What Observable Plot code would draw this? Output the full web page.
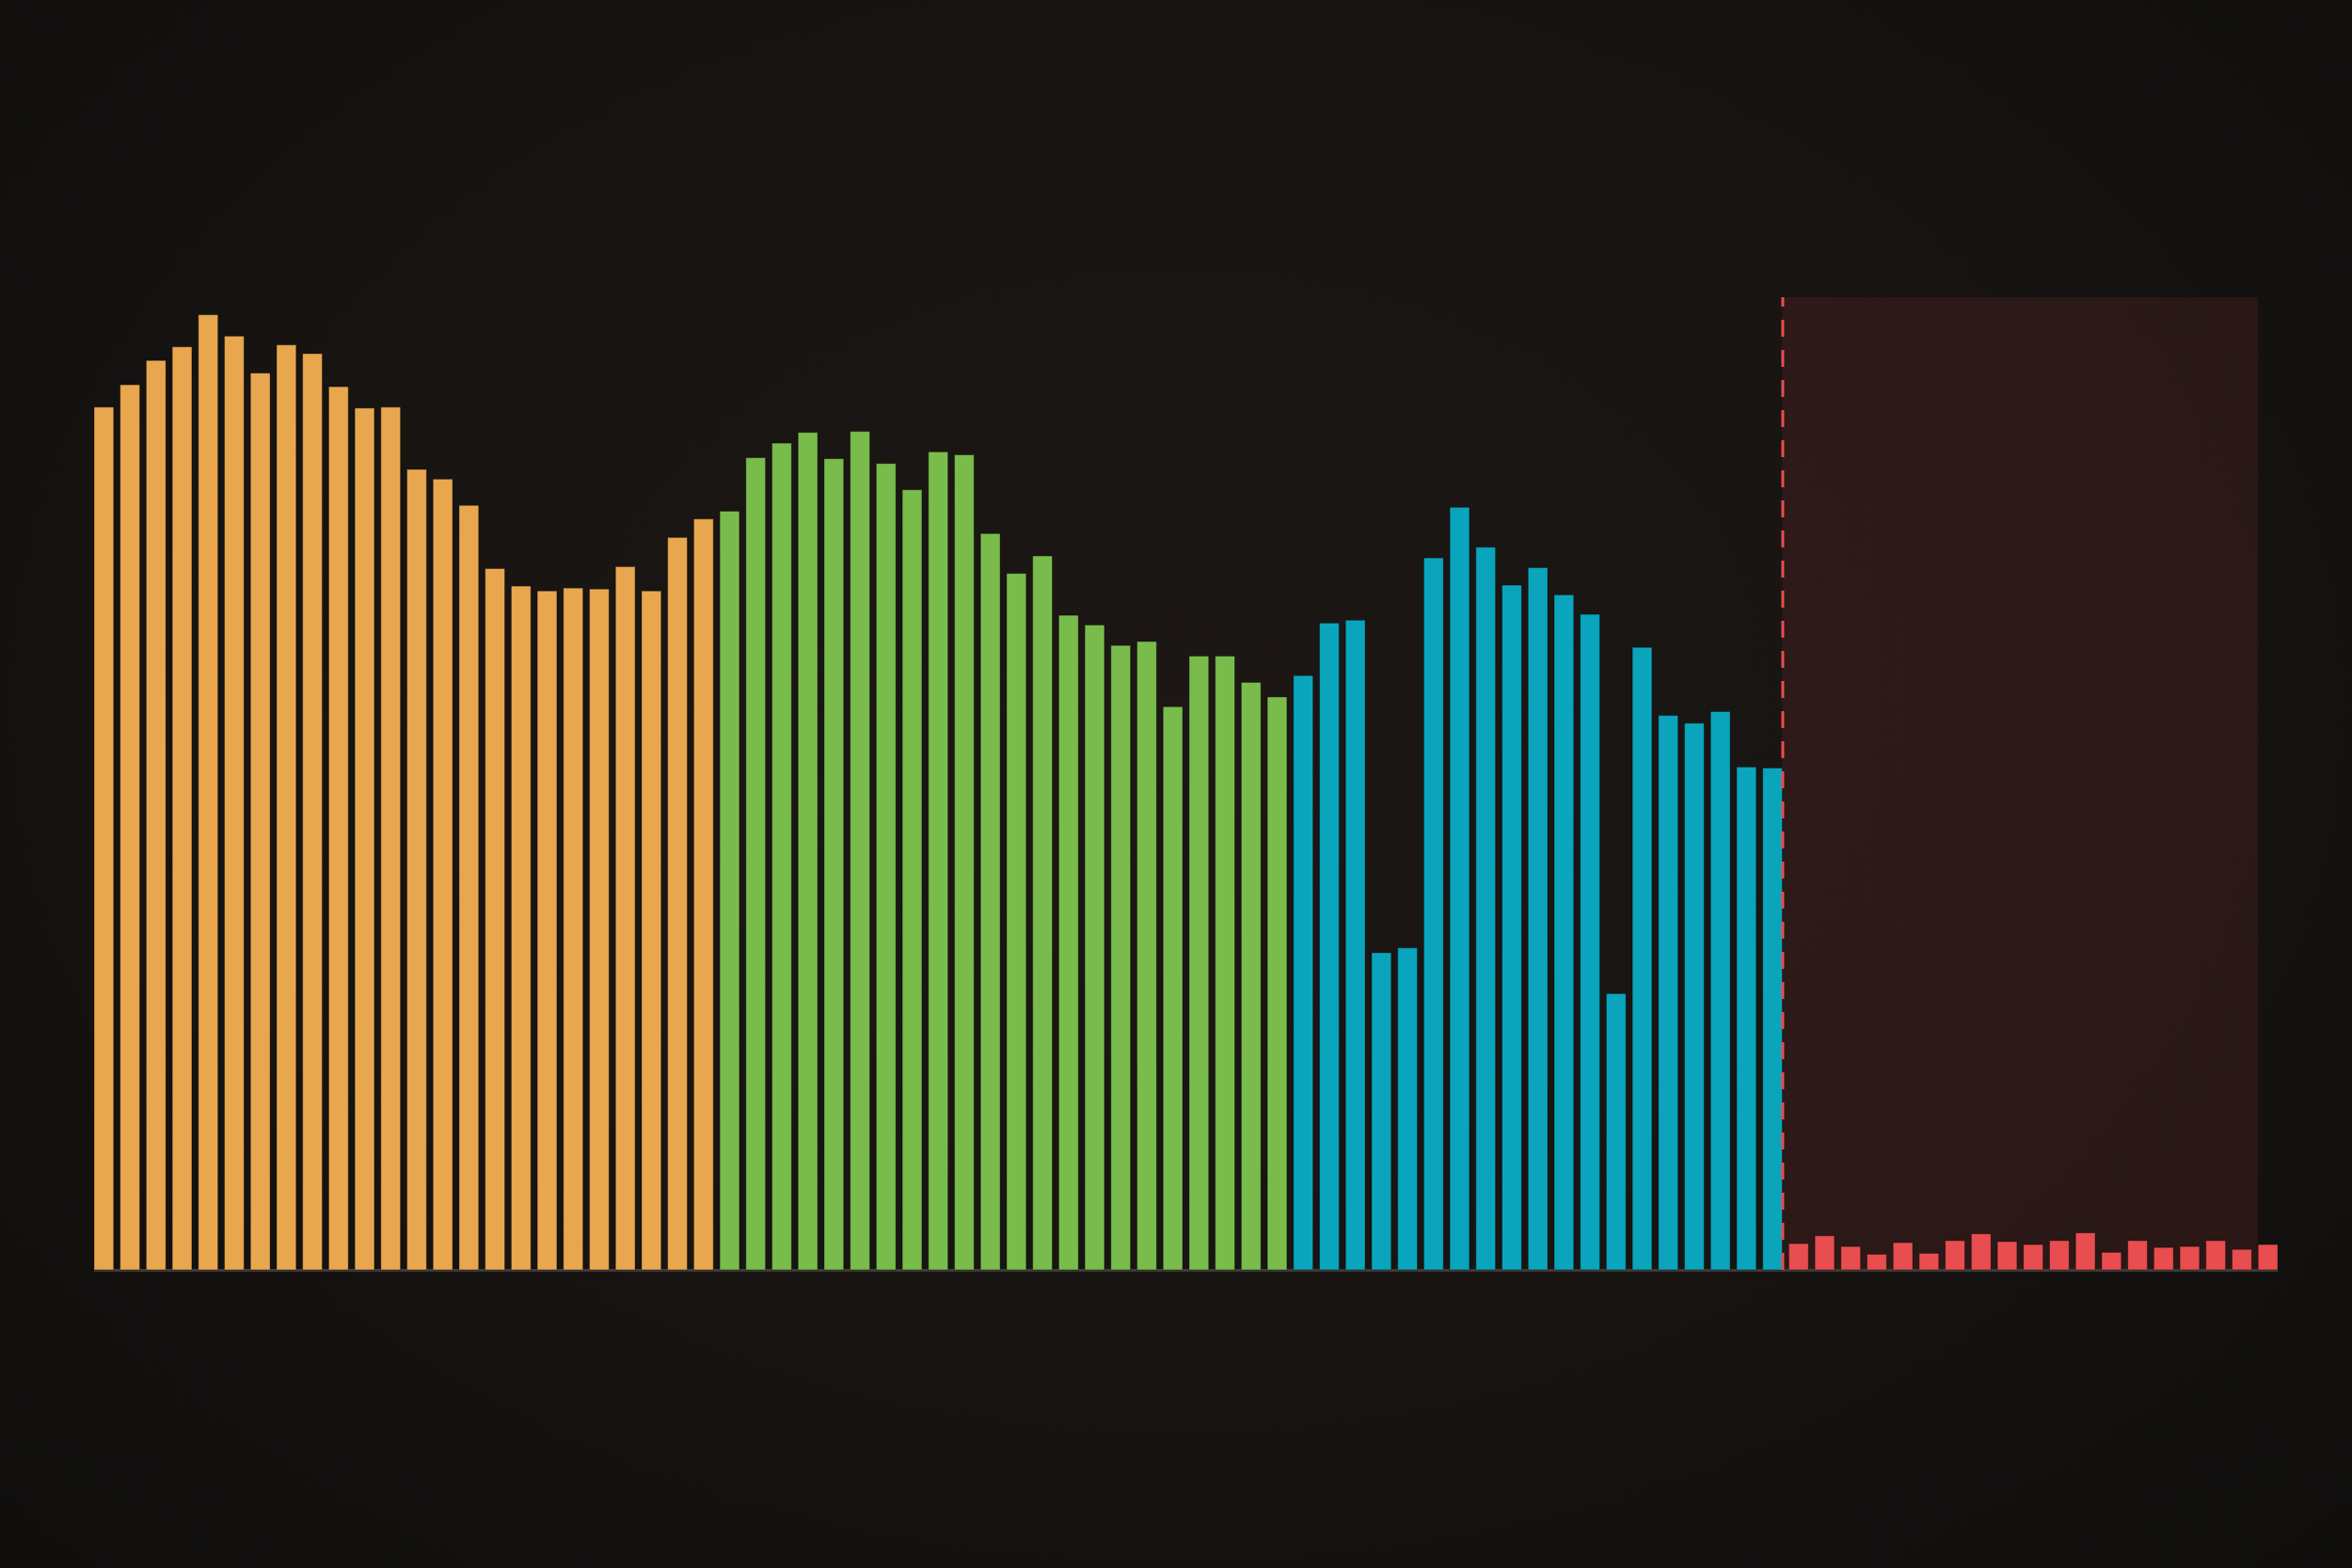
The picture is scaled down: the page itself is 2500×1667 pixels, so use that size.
<!DOCTYPE html>
<html>
<head>
<meta charset="utf-8">
<script src="https://cdn.jsdelivr.net/npm/d3@7"></script>
<script src="https://cdn.jsdelivr.net/npm/@observablehq/plot@0.6"></script>
<style>
  html, body { margin: 0; padding: 0; width: 2500px; height: 1667px; overflow: hidden; }
  body { background: radial-gradient(ellipse at 50% 45%, #1c1714 0%, #171412 55%, #0f0e0d 100%); }
  #chart svg { display: block; }
</style>
</head>
<body>
<div id="chart"></div>
<script>
const orange = [88.7, 91.0, 93.5, 94.9, 98.2, 96.0, 92.2, 95.1, 94.2, 90.8, 88.6, 88.7, 82.3, 81.3, 78.6, 72.1, 70.3, 69.8, 70.1, 70.0, 72.3, 69.8, 75.3, 77.2];
const green = [78.0, 83.5, 85.0, 86.1, 83.4, 86.2, 82.9, 80.2, 84.1, 83.8, 75.7, 71.6, 73.4, 67.3, 66.3, 64.2, 64.6, 57.9, 63.1, 63.1, 60.4, 58.9];
const blue = [61.1, 66.5, 66.8, 32.6, 33.1, 73.2, 78.4, 74.3, 70.4, 72.2, 69.4, 67.4, 28.4, 64.0, 57.0, 56.2, 57.4, 51.7, 51.6];
const red = [2.7, 3.5, 2.4, 1.6, 2.8, 1.7, 3.0, 3.7, 2.9, 2.6, 3.0, 3.8, 1.8, 3.0, 2.3, 2.4, 3.0, 2.1, 2.6];

const groups = ["Group 1", "Group 2", "Group 3", "Group 4"];
const colors = ["#E8A74E", "#79BC4B", "#0AA5BD", "#E84D4F"];
const series = [orange, green, blue, red];

const data = [];
series.forEach((arr, g) => arr.forEach(v => data.push({i: data.length, group: groups[g], value: v})));

const half = 0.375;
const lastBlue = orange.length + green.length + blue.length - 1;
const lastIndex = data.length - 1;
const shade = [{x1: lastBlue + half, x2: lastIndex - half, y1: 0, y2: 100}];

const chart = Plot.plot({
  width: 2500,
  height: 1667,
  marginLeft: 100,
  marginRight: 79,
  marginTop: 316,
  marginBottom: 317,
  style: {background: "transparent"},
  x: {domain: [-half, lastIndex + half], axis: null},
  y: {domain: [0, 100], axis: null},
  color: {type: "ordinal", domain: groups, range: colors},
  marks: [
    Plot.rect(shade, {x1: "x1", x2: "x2", y1: "y1", y2: "y2", fill: "#E84D4F", fillOpacity: 0.1}),
    Plot.ruleY([0], {stroke: "#3e3b37", strokeWidth: 3}),
    Plot.rectY(data, {
      x1: d => d.i - half,
      x2: d => d.i + half,
      y1: 0,
      y2: "value",
      fill: "group",
      stroke: "rgba(0,0,0,0.35)",
      strokeWidth: 1
    }),
    Plot.ruleX([lastBlue + half], {y1: 0, y2: 100, stroke: "#E84D4F", strokeWidth: 3, strokeDasharray: "18,14"})
  ]
});
document.getElementById("chart").appendChild(chart);
</script>
</body>
</html>
